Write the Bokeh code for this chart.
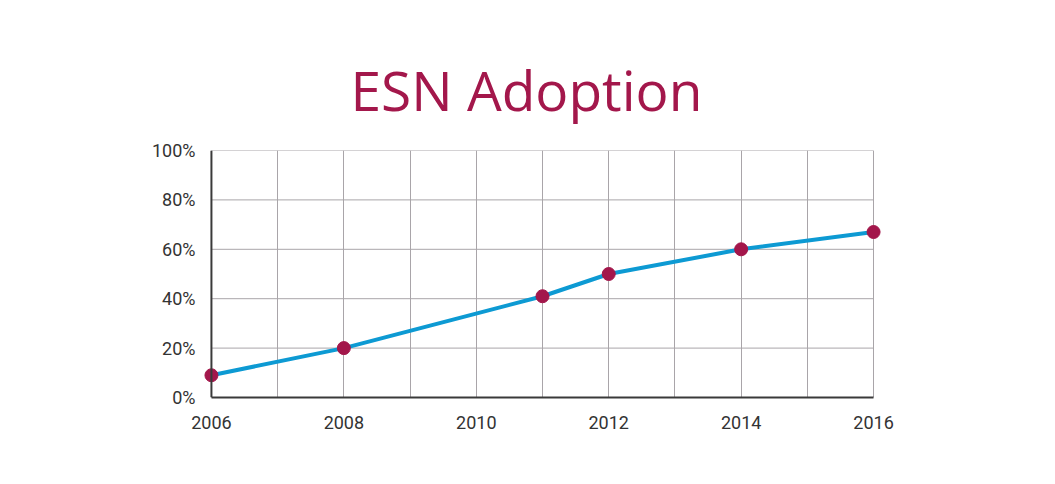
from bokeh.plotting import figure
from bokeh.models import SingleIntervalTicker, FixedTicker, Range1d, CustomJSTickFormatter, Span
from bokeh.embed import file_html
from bokeh.resources import INLINE

# Share of organisations using an enterprise social network
years = [2006, 2008, 2011, 2012, 2014, 2016]
adoption = [9, 20, 41, 50, 60, 67]
y_ticks = [0, 20, 40, 60, 80, 100]
first_year, last_year = 2006, 2016

TITLE_COLOR = "#a3174b"
LINE_COLOR = "#0d9ad3"
GRID_COLOR = "#a9a5a9"
AXIS_COLOR = "#3a3a3a"
TICK_FONT = "Roboto"

# x range padded a little so the end markers are not cut by the frame
p = figure(width=1055, height=484, output_backend="svg", toolbar_location=None,
           x_range=Range1d(first_year - 0.15, last_year + 0.15), y_range=Range1d(0, 100),
           min_border_left=201, min_border_right=172,
           min_border_top=150, min_border_bottom=87)
p.background_fill_color = "white"
p.border_fill_color = "white"
p.outline_line_color = None

p.title.text = "ESN Adoption"
p.title.text_font = "Open Sans"
p.title.text_font_size = "55px"
p.title.text_font_style = "normal"
p.title.text_color = TITLE_COLOR
p.title.align = "left"
p.title.offset = 149
p.title.standoff = 47

# axes: labels every 2 years / 20 %, vertical grid every year
p.xaxis.ticker = SingleIntervalTicker(interval=2)
p.xaxis.bounds = (first_year, last_year)
p.yaxis.ticker = FixedTicker(ticks=y_ticks)
p.yaxis.formatter = CustomJSTickFormatter(code="return tick + '%';")
p.yaxis.axis_line_color = None

for ax in (p.xaxis[0], p.yaxis[0]):
    ax.major_tick_line_color = None
    ax.minor_tick_line_color = None
    ax.major_label_text_font = TICK_FONT
    ax.major_label_text_font_size = "18px"
    ax.major_label_text_color = "#333333"

p.xaxis.axis_line_color = AXIS_COLOR
p.xaxis.axis_line_width = 2
p.xaxis.major_label_standoff = 12
p.yaxis.major_label_standoff = 0
p.yaxis.major_label_text_baseline = "alphabetic"

p.xgrid.ticker = SingleIntervalTicker(interval=1)
p.xgrid.grid_line_color = GRID_COLOR
p.xgrid.grid_line_width = 1
p.ygrid.grid_line_color = None

# horizontal grid lines only across the year span
p.segment(x0=first_year, x1=last_year, y0=y_ticks, y1=y_ticks,
          line_color=GRID_COLOR, line_width=1)

# vertical axis line at the first year
p.add_layout(Span(location=first_year, dimension="height",
                  line_color=AXIS_COLOR, line_width=2))

p.line(years, adoption, line_color=LINE_COLOR, line_width=4)
p.scatter(years, adoption, size=13, fill_color=TITLE_COLOR, line_color=TITLE_COLOR)

open("out.html", "w").write(file_html(p, INLINE))
